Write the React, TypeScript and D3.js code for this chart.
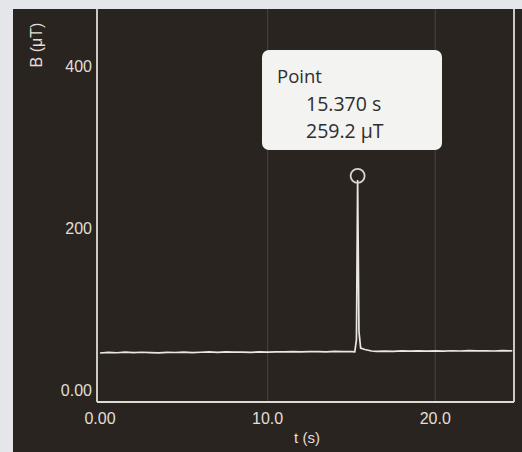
import React from "react";
import * as d3 from "d3";

// Time samples (s) and magnetic field readings (μT)
const times: number[] = [
  0.0, 0.5, 1.0, 1.5, 2.0, 2.5, 3.0, 3.5, 4.0, 4.5, 5.0, 5.5, 6.0, 6.5, 7.0, 7.5,
  8.0, 8.5, 9.0, 9.5, 10.0, 10.5, 11.0, 11.5, 12.0, 12.5, 13.0, 13.5, 14.0, 14.5,
  15.0, 15.2, 15.3, 15.37, 15.45, 15.55, 15.8, 16.2, 16.5, 17.0, 17.5, 18.0, 18.5,
  19.0, 19.5, 20.0, 20.5, 21.0, 21.5, 22.0, 22.5, 23.0, 23.5, 24.0, 24.5, 24.6,
];
const fieldValues: number[] = [
  45.5, 46.2, 45.8, 46.5, 45.9, 46.4, 46.0, 45.6, 46.3, 46.1, 46.6, 45.9, 46.4, 46.8, 46.2, 46.9,
  46.5, 46.7, 46.3, 46.9, 46.6, 47.0, 46.8, 47.2, 46.9, 47.1, 47.3, 47.0, 47.4, 47.1,
  47.3, 47.0, 62.0, 259.2, 72.0, 51.5, 49.8, 48.0, 47.5, 47.9, 47.6, 48.0, 47.7,
  48.1, 47.8, 48.2, 47.9, 48.3, 48.0, 48.4, 48.1, 48.3, 48.0, 48.5, 48.2, 48.3,
];
const yTicks: number[] = [0, 200, 400];
const yTickLabels: string[] = ["0.00", "200", "400"];
const xTicks: number[] = [0, 10, 20];
const xTickLabels: string[] = ["0.00", "10.0", "20.0"];
const gridX: number[] = [10, 20];
const peakTime = 15.37;
const peakValue = 259.2;
const tooltipLines: string[] = ["Point", "15.370 s", "259.2 μT"];
const xTitle = "t (s)";
const yTitle = "B (μT)";

export default function App() {
  const W = 522;
  const H = 452;
  const x = d3.scaleLinear().domain([-0.18, 24.7]).range([97, 514]);
  const y = d3.scaleLinear().domain([-15, 469]).range([402, 10]);
  const data = times.map((t, i) => ({ t, v: fieldValues[i] }));
  const line = d3
    .line<{ t: number; v: number }>()
    .x((d) => x(d.t))
    .y((d) => y(d.v));

  const axisColor = "#dedbd4";
  const textColor = "#e2dfd8";
  const font = "'Liberation Sans', Arial, sans-serif";
  const tipFont = "'Open Sans', sans-serif";

  return (
    <div style={{ position: "fixed", left: 0, top: 0 }}>
      <svg width={W} height={H} style={{ display: "block" }}>
        <rect x={0} y={0} width={W} height={H} fill="#e4e6ea" />
        <rect x={13} y={9} width={W - 13} height={H - 9} fill="#2a2420" />
        {/* gridlines */}
        {gridX.map((g) => (
          <line key={g} x1={x(g)} x2={x(g)} y1={9} y2={402} stroke="#4a443e" strokeWidth={1} />
        ))}
        {/* frame */}
        <line x1={97} x2={97} y1={9} y2={402} stroke={axisColor} strokeWidth={1.8} />
        <line x1={514} x2={514} y1={9} y2={402} stroke={axisColor} strokeWidth={1.8} />
        <line x1={97} x2={514} y1={402} y2={402} stroke={axisColor} strokeWidth={1.8} />
        {/* data */}
        <path d={line(data) || ""} fill="none" stroke="#ebe8e0" strokeWidth={1.7} />
        <circle cx={x(peakTime)} cy={y(peakValue) - 4} r={7} fill="none" stroke="#d8d5ce" strokeWidth={1.8} />
        {/* y ticks */}
        {yTicks.map((v, i) => (
          <text key={v} x={92} y={y(v)} dy="0.36em" textAnchor="end" fill={textColor}
            fontFamily={font} fontSize={16}>
            {yTickLabels[i]}
          </text>
        ))}
        {/* x ticks */}
        {xTicks.map((v, i) => (
          <text key={v} x={x(v)} y={418} dy="0.36em" textAnchor="middle" fill={textColor}
            fontFamily={font} fontSize={16}>
            {xTickLabels[i]}
          </text>
        ))}
        <text x={307} y={438} dy="0.36em" textAnchor="middle" fill={textColor} fontFamily={font} fontSize={15}>
          {xTitle}
        </text>
        <text transform="translate(36,45) rotate(-90)" dy="0.36em" textAnchor="middle" fill={textColor}
          fontFamily={font} fontSize={16}>
          {yTitle}
        </text>
        {/* tooltip */}
        <rect x={262} y={50} width={180} height={100} rx={7} fill="#f3f3f1" />
        <text x={277} y={76} dy="0.36em" fill="#2e2e2e" fontFamily={tipFont} fontSize={18.5}>
          {tooltipLines[0]}
        </text>
        <text x={306} y={104} dy="0.36em" fill="#2e2e2e" fontFamily={tipFont} fontSize={19.5}>
          {tooltipLines[1]}
        </text>
        <text x={306} y={131} dy="0.36em" fill="#2e2e2e" fontFamily={tipFont} fontSize={19.5}>
          {tooltipLines[2]}
        </text>
      </svg>
    </div>
  );
}
